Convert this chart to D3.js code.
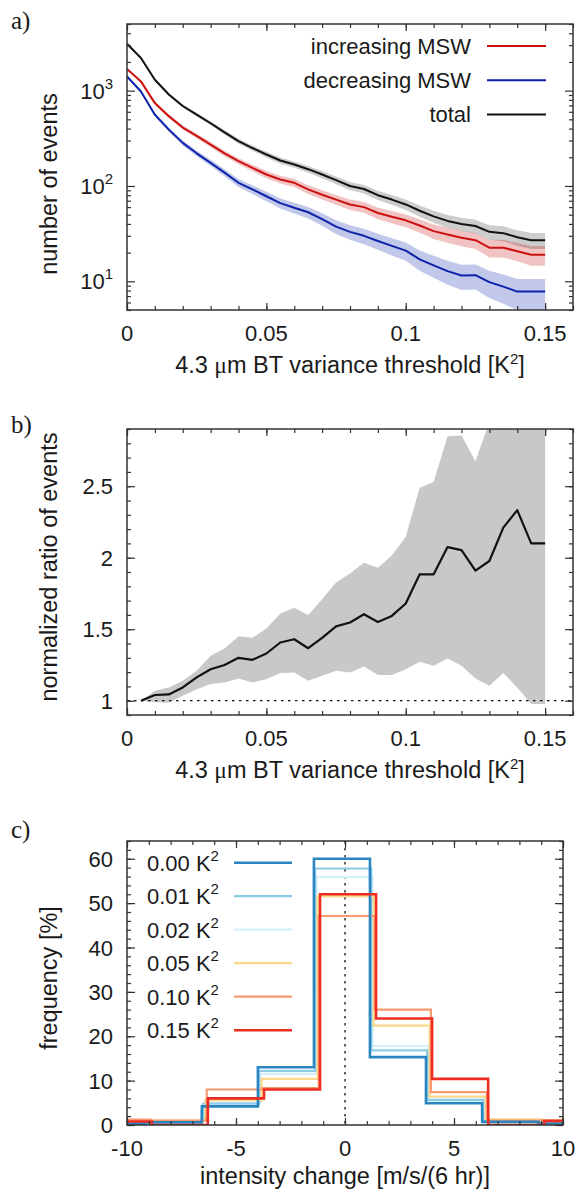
<!DOCTYPE html>
<html><head><meta charset="utf-8">
<script src="https://cdn.jsdelivr.net/npm/d3@7"></script>
<style>
body{margin:0;background:#fff;}
svg{display:block;}
text{font-family:"Liberation Sans",Arial,Helvetica,sans-serif;fill:#1a1a1a;}
.plab{font-family:"Liberation Serif","Times New Roman",serif;}
</style></head><body>
<svg id="fig" width="578" height="1192"></svg>
<script>
// ---------- Panel a data ----------
const thresholds = [0,0.005,0.01,0.015,0.02,0.025,0.03,0.035,0.04,0.045,0.05,0.055,0.06,0.065,0.07,0.075,0.08,0.085,0.09,0.095,0.1,0.105,0.11,0.115,0.12,0.125,0.13,0.135,0.14,0.145,0.15];
const totalEvents = [3100,2200,1300,910,690,560,455,365,295,250,214,185,168,150,132,115,100,93,80,72,64,55,48,43,40,38,33,32,29,27,27];
const totalErr    = [56,47,36,30,26,24,21,19,17,16,15,14,13,12,11.5,10.7,10,9.6,8.9,8.5,8,7.4,6.9,6.6,6.3,6.2,5.7,5.7,5.4,5.2,5.2];
const increasingEvents = [1690,1250,740,540,410,335,272,220,182,155,132,117,108,92,81,72,64,60,52,47.6,43.6,38.5,33.6,31,28.6,27,22.5,22.5,20.7,19,19];
const increasingErr    = [41,35,27,23,20,18,16.5,14.8,13.5,12.4,11.5,10.8,10.4,9.6,9,8.5,8,7.7,7.2,6.9,6.6,6.2,5.8,5.6,5.3,5.2,4.7,4.7,4.5,4.4,4.4];
const decreasingEvents = [1410,980,560,390,283,220,175,138,108,92,78,66,59,53,45,37.5,33,30,26.5,23.5,21,17,14.7,12.8,11.5,11.6,9.8,8.8,7.8,7.8,7.8];
const decreasingErr    = [37.5,31.3,23.7,19.7,16.8,14.8,13.2,11.7,10.4,9.6,8.8,8.1,7.7,7.3,6.7,6.1,5.7,5.5,5.1,4.8,4.6,4.1,3.8,3.6,3.4,3.4,3.1,3,2.8,2.8,2.8];
const seriesNamesA = ["increasing MSW","decreasing MSW","total"];
const xTicksAB = [0,0.05,0.1,0.15];
const xTickLabelsAB = ["0","0.05","0.1","0.15"];
const yTicksA = [10,100,1000];
const yTickExpA = ["1","2","3"];

// ---------- Panel b data ----------
const ratioThresholds = [0.005,0.01,0.015,0.02,0.025,0.03,0.035,0.04,0.045,0.05,0.055,0.06,0.065,0.07,0.075,0.08,0.085,0.09,0.095,0.1,0.105,0.11,0.115,0.12,0.125,0.13,0.135,0.14,0.145,0.15];
const ratio   = [1.0,1.04,1.044,1.093,1.163,1.22,1.25,1.30,1.286,1.33,1.407,1.43,1.367,1.44,1.52,1.547,1.605,1.55,1.593,1.68,1.884,1.884,2.074,2.053,1.91,1.977,2.21,2.333,2.1,2.1];
const ratioHi = [1.0,1.07,1.093,1.14,1.21,1.314,1.365,1.45,1.44,1.505,1.61,1.65,1.60,1.71,1.826,1.89,1.965,1.93,2.016,2.147,2.49,2.53,2.85,2.855,2.674,2.95,3.2,3.4,3.2,3.2];
const ratioLo = [1.0,0.99,0.985,1.035,1.08,1.116,1.128,1.156,1.128,1.15,1.193,1.198,1.14,1.174,1.21,1.198,1.24,1.18,1.18,1.22,1.272,1.244,1.295,1.244,1.156,1.105,1.193,1.093,0.977,0.977];
const yTicksB = [1,1.5,2,2.5];
const yTickLabelsB = ["1","1.5","2","2.5"];

// ---------- Panel c data ----------
const binCenters = [-10.29,-7.72,-5.14,-2.57,0,2.57,5.14,7.72,10.29];
const binWidth = 2.572;
const histLabels = ["0.00","0.01","0.02","0.05","0.10","0.15"];
const freq000 = [0.3,0.6,4.2,13.0,60.0,15.3,4.9,0.7,0.3];
const freq001 = [0.4,0.7,4.8,12.2,57.8,16.8,5.6,0.9,0.3];
const freq002 = [0.5,0.8,5.0,11.5,55.9,17.8,5.9,1.0,0.4];
const freq005 = [0.8,1.0,5.6,10.4,51.5,22.4,6.4,1.3,0.5];
const freq010 = [1.2,1.0,8.0,8.3,47.1,26.0,7.4,1.0,1.1];
const freq015 = [0.8,0.0,6.0,8.0,52.0,24.0,10.4,0.0,0.9];
const xTicksC = [-10,-5,0,5,10];
const yTicksC = [0,10,20,30,40,50,60];

// ---------- styling ----------
const colA = {inc:"#cc1010", dec:"#0d22aa", tot:"#111111"};
const colC = ["#2a86c2","#8ccbe6","#d3eff8","#fbd88c","#f89a70","#ee2c22"];
const widC = [2.6,2.2,2.2,2.2,2.2,2.6];
const FS = 22, TFS = 23.5;

const svg = d3.select('#fig');
const frameCol = "#333";

function tickAxis(gen, scale, vals, len, tx, ty){
  svg.append('g').attr('transform',`translate(${tx},${ty})`)
    .call(gen(scale).tickValues(vals).tickSizeInner(-len).tickSizeOuter(0).tickFormat(''))
    .call(g=>{g.select('.domain').remove(); g.selectAll('line').attr('stroke',frameCol).attr('stroke-width',1.2);});
}
function frame(box){
  svg.append('rect').attr('x',box.left).attr('y',box.top)
    .attr('width',box.right-box.left).attr('height',box.bottom-box.top)
    .attr('fill','none').attr('stroke',frameCol).attr('stroke-width',1.5);
}
function allTicks(box, xs, ys, xMaj, xMin, yMaj, yMin){
  [[xMaj,7],[xMin,4]].forEach(([v,l])=>{
    tickAxis(d3.axisBottom, xs, v, l, 0, box.bottom);
    tickAxis(d3.axisTop, xs, v, l, 0, box.top);
  });
  [[yMaj,8],[yMin,4]].forEach(([v,l])=>{
    tickAxis(d3.axisLeft, ys, v, l, box.left, 0);
    tickAxis(d3.axisRight, ys, v, l, box.right, 0);
  });
}
function clip(id, box){
  svg.append('clipPath').attr('id',id).append('rect')
    .attr('x',box.left).attr('y',box.top).attr('width',box.right-box.left).attr('height',box.bottom-box.top);
}
function xTitle(txtParts, cx, y){
  const t = svg.append('text').attr('x',cx).attr('y',y).attr('text-anchor','middle').attr('font-size',TFS);
  txtParts.forEach(p=>{
    const s = t.append('tspan').text(p.t);
    if(p.serif) s.attr('font-family','"Liberation Serif","Times New Roman",serif');
    if(p.sup) s.attr('font-size',15).attr('dy',-9);
    if(p.after) s.attr('dy',9);
  });
}
function yTitle(txt, x, cy){
  svg.append('text').attr('transform',`translate(${x},${cy}) rotate(-90)`)
    .attr('text-anchor','middle').attr('font-size',TFS).text(txt);
}
function panelLabel(txt, y){
  svg.append('text').attr('class','plab').attr('x',11).attr('y',y).attr('font-size',25).text(txt);
}
const thrTitle = [{t:"4.3 "},{t:"\u03bc",serif:true},{t:"m BT variance threshold [K"},{t:"2",sup:true},{t:"]",after:true}];

// ================= Panel a =================
const A = {left:127, right:573, top:24, bottom:310};
const xa = d3.scaleLinear().domain([0,0.16]).range([A.left,A.right]);
const ya = d3.scaleLog().domain([5,5000]).range([A.bottom,A.top]);
clip('clipA', A);
const gA = svg.append('g').attr('clip-path','url(#clipA)');
const seriesA = [
  {v:totalEvents, e:totalErr, c:colA.tot, op:0.21},
  {v:increasingEvents, e:increasingErr, c:colA.inc, op:0.25},
  {v:decreasingEvents, e:decreasingErr, c:colA.dec, op:0.25}
];
seriesA.forEach(s=>{
  const pts = thresholds.map((t,i)=>({t, v:s.v[i], e:s.e[i]}));
  gA.append('path').datum(pts).attr('fill',s.c).attr('fill-opacity',s.op)
    .attr('d', d3.area().x(d=>xa(d.t)).y0(d=>ya(Math.max(d.v-d.e,1))).y1(d=>ya(d.v+d.e)));
});
seriesA.forEach(s=>{
  const pts = thresholds.map((t,i)=>({t, v:s.v[i]}));
  gA.append('path').datum(pts).attr('fill','none').attr('stroke',s.c).attr('stroke-width',2)
    .attr('stroke-linejoin','round')
    .attr('d', d3.line().x(d=>xa(d.t)).y(d=>ya(d.v)));
});
frame(A);
const minorLog = [];
[1,10,100,1000].forEach(d=>{for(let k=2;k<=9;k++){const v=k*d; if(v>=5&&v<=5000) minorLog.push(v);}});
allTicks(A, xa, ya, xTicksAB, d3.range(0,0.161,0.01), yTicksA, minorLog);
svg.append('g').selectAll('text').data(xTicksAB).join('text')
  .attr('x',d=>xa(d)).attr('y',A.bottom+31).attr('text-anchor','middle').attr('font-size',FS)
  .text((d,i)=>xTickLabelsAB[i]);
const ylA = svg.append('g').selectAll('text').data(yTicksA).join('text')
  .attr('x',A.left-14).attr('y',d=>ya(d)+8).attr('text-anchor','end').attr('font-size',FS);
ylA.append('tspan').text('10');
ylA.append('tspan').attr('font-size',15).attr('dy',-10).text((d,i)=>yTickExpA[i]);
xTitle(thrTitle, 350, A.bottom+63);
yTitle("number of events", 57, 184);
panelLabel("a)", 29);
const legA = [{n:seriesNamesA[0],c:colA.inc},{n:seriesNamesA[1],c:colA.dec},{n:seriesNamesA[2],c:colA.tot}];
legA.forEach((l,i)=>{
  const yy = 46 + i*34.2;
  svg.append('text').attr('x',471).attr('y',yy+7.5).attr('text-anchor','end').attr('font-size',FS).text(l.n);
  svg.append('line').attr('x1',487).attr('x2',546).attr('y1',yy).attr('y2',yy).attr('stroke',l.c).attr('stroke-width',2);
});

// ================= Panel b =================
const B = {left:127, right:573, top:429, bottom:715};
const xb = d3.scaleLinear().domain([0,0.16]).range([B.left,B.right]);
const yb = d3.scaleLinear().domain([0.9,2.9]).range([B.bottom,B.top]);
clip('clipB', B);
const gB = svg.append('g').attr('clip-path','url(#clipB)');
const ptsB = ratioThresholds.map((t,i)=>({t, r:ratio[i], lo:ratioLo[i], hi:ratioHi[i]}));
gB.append('path').datum(ptsB).attr('fill','#c8c8c8')
  .attr('d', d3.area().x(d=>xb(d.t)).y0(d=>yb(d.lo)).y1(d=>yb(d.hi)));
gB.append('line').attr('x1',B.left).attr('x2',B.right).attr('y1',yb(1)).attr('y2',yb(1))
  .attr('stroke','#111').attr('stroke-width',1.3).attr('stroke-dasharray','2.5,4.5');
gB.append('path').datum(ptsB).attr('fill','none').attr('stroke','#111').attr('stroke-width',2.2)
  .attr('stroke-linejoin','round').attr('d', d3.line().x(d=>xb(d.t)).y(d=>yb(d.r)));
frame(B);
allTicks(B, xb, yb, xTicksAB, d3.range(0,0.161,0.01), yTicksB, d3.range(0.9,2.91,0.1));
svg.append('g').selectAll('text').data(xTicksAB).join('text')
  .attr('x',d=>xb(d)).attr('y',B.bottom+31).attr('text-anchor','middle').attr('font-size',FS)
  .text((d,i)=>xTickLabelsAB[i]);
svg.append('g').selectAll('text').data(yTicksB).join('text')
  .attr('x',B.left-14).attr('y',d=>yb(d)+8).attr('text-anchor','end').attr('font-size',FS)
  .text((d,i)=>yTickLabelsB[i]);
xTitle(thrTitle, 350, B.bottom+63);
yTitle("normalized ratio of events", 57, 567);
panelLabel("b)", 433);

// ================= Panel c =================
const C = {left:127, right:563, top:841, bottom:1125};
const xc = d3.scaleLinear().domain([-10,10]).range([C.left,C.right]);
const yc = d3.scaleLinear().domain([0,64]).range([C.bottom,C.top]);
clip('clipC', C);
const gC = svg.append('g').attr('clip-path','url(#clipC)');
gC.append('line').attr('x1',xc(0)).attr('x2',xc(0)).attr('y1',C.top).attr('y2',C.bottom)
  .attr('stroke','#111').attr('stroke-width',1.3).attr('stroke-dasharray','2.5,4.5');
const histSeries = [freq000,freq001,freq002,freq005,freq010,freq015];
const drawOrder = [2,1,3,4,0,5];
drawOrder.forEach(si=>{
  const vals = histSeries[si];
  const off = (si-2.5)*0.056;
  const pts = [];
  binCenters.forEach((c,j)=>{
    const l = c - binWidth/2 + off, r = c + binWidth/2 + off;
    if(j===0) pts.push([l,0]);
    pts.push([l,vals[j]]); pts.push([r,vals[j]]);
    if(j===binCenters.length-1) pts.push([r,0]);
  });
  gC.append('path').datum(pts).attr('fill','none').attr('stroke',colC[si]).attr('stroke-width',widC[si])
    .attr('d', d3.line().x(d=>xc(d[0])).y(d=>yc(d[1])));
});
frame(C);
allTicks(C, xc, yc, xTicksC, d3.range(-10,10.1,1), yTicksC, d3.range(0,64.1,2));
svg.append('g').selectAll('text').data(xTicksC).join('text')
  .attr('x',d=>xc(d)).attr('y',C.bottom+31).attr('text-anchor','middle').attr('font-size',FS)
  .text(d=>d);
svg.append('g').selectAll('text').data(yTicksC).join('text')
  .attr('x',C.left-14).attr('y',d=>yc(d)+8).attr('text-anchor','end').attr('font-size',FS)
  .text(d=>d);
xTitle([{t:"intensity change [m/s/(6 hr)]"}], (C.left+C.right)/2, C.bottom+59);
yTitle("frequency [%]", 57, 978);
panelLabel("c)", 838);
histLabels.forEach((lab,i)=>{
  const yy = 862.7 + i*33.5;
  const t = svg.append('text').attr('x',147).attr('y',yy+8).attr('font-size',FS);
  t.append('tspan').text(lab+" K");
  t.append('tspan').attr('font-size',15).attr('dy',-10).text("2");
  svg.append('line').attr('x1',234).attr('x2',292).attr('y1',yy).attr('y2',yy)
    .attr('stroke',colC[i]).attr('stroke-width',widC[i]);
});
</script></body></html>
